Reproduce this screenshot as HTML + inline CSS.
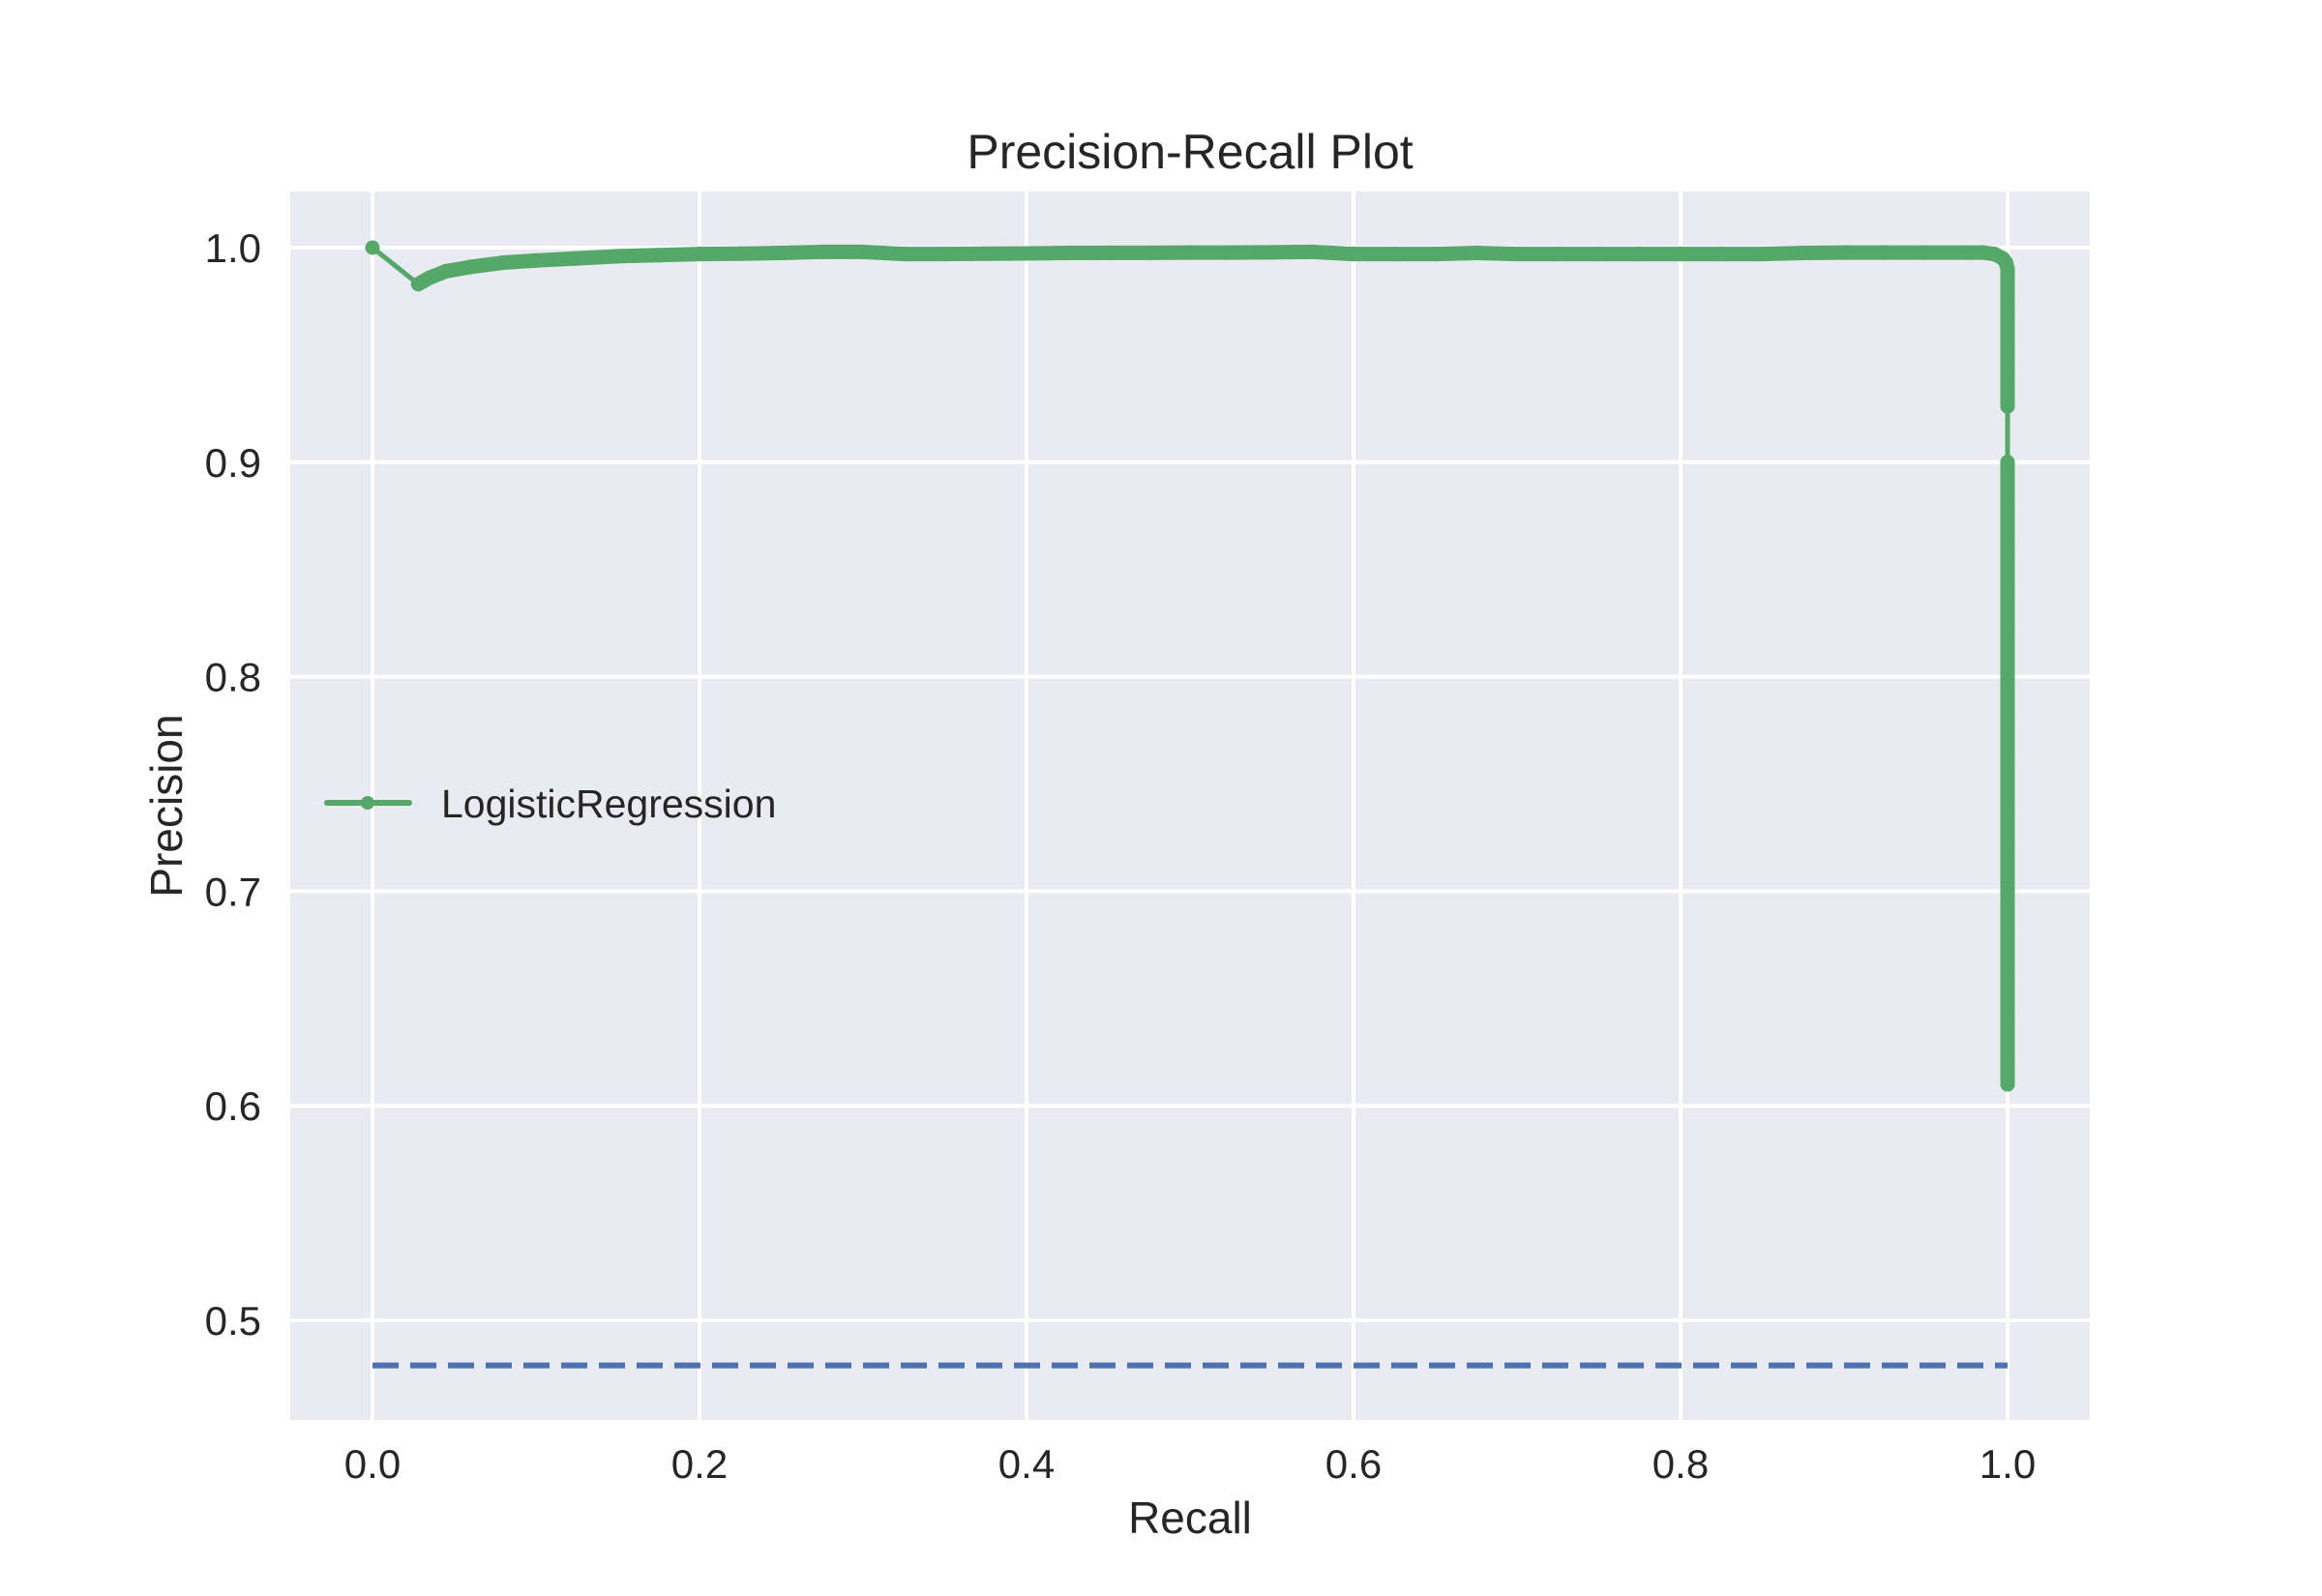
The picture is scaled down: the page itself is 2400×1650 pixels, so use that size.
<!DOCTYPE html>
<html><head><meta charset="utf-8"><style>
html,body{margin:0;padding:0;background:#fff;}
svg{display:block;font-family:"Liberation Sans",Arial,sans-serif;}
</style></head><body>
<svg id="chart" width="2400" height="1650" viewBox="0 0 2400 1650" xmlns="http://www.w3.org/2000/svg">
<rect width="2400" height="1650" fill="#fff"/>
<rect x="300" y="198" width="1860" height="1270" fill="#eaeaf2"/>
<g id="grid"></g>
<g id="ticks"></g>
<g id="series"></g>
<text x="1230" y="174" font-size="50" text-anchor="middle" fill="#262626">Precision-Recall Plot</text>
<text x="1230" y="1585" font-size="46" text-anchor="middle" fill="#262626">Recall</text>
<text x="188" y="833" font-size="46" text-anchor="middle" fill="#262626" transform="rotate(-90 188 833)">Precision</text>
<g>
<line x1="338" y1="830" x2="423" y2="830" stroke="#55a868" stroke-width="6" stroke-linecap="round"/>
<circle cx="380" cy="830" r="7" fill="#55a868"/>
<text x="456" y="845" font-size="41" fill="#262626">LogisticRegression</text>
</g>
</svg>
<script>
const xTicks = [0.0, 0.2, 0.4, 0.6, 0.8, 1.0];
const xTickLabels = ["0.0", "0.2", "0.4", "0.6", "0.8", "1.0"];
const yTicks = [0.5, 0.6, 0.7, 0.8, 0.9, 1.0];
const yTickLabels = ["0.5", "0.6", "0.7", "0.8", "0.9", "1.0"];
const recall = [0, 0.028, 0.035, 0.045, 0.06, 0.08, 0.1, 0.125, 0.15, 0.175, 0.2, 0.225, 0.25, 0.275, 0.3, 0.325, 0.35, 0.375, 0.4, 0.425, 0.45, 0.475, 0.5, 0.525, 0.55, 0.575, 0.6, 0.625, 0.65, 0.675, 0.7, 0.725, 0.75, 0.775, 0.8, 0.825, 0.85, 0.875, 0.9, 0.925, 0.95, 0.975, 0.985, 0.992, 0.997, 0.999, 1.0, 1.0, 1.0, 1.0, 1.0, 1.0, 1.0, 1.0, 1.0, 1.0, 1.0, 1.0, 1.0, 1.0, 1.0, 1.0, 1.0, 1.0, 1.0, 1.0, 1.0, 1.0];
const precision = [1.0, 0.983, 0.986, 0.989, 0.991, 0.993, 0.994, 0.995, 0.996, 0.9965, 0.997, 0.9972, 0.9975, 0.998, 0.998, 0.997, 0.997, 0.9972, 0.9973, 0.9975, 0.9976, 0.9976, 0.9977, 0.9977, 0.9978, 0.998, 0.997, 0.997, 0.997, 0.9975, 0.997, 0.997, 0.997, 0.997, 0.997, 0.997, 0.997, 0.9975, 0.9977, 0.9977, 0.9977, 0.9977, 0.9977, 0.997, 0.995, 0.993, 0.99, 0.97, 0.95, 0.94, 0.926, 0.9, 0.88, 0.86, 0.84, 0.82, 0.8, 0.78, 0.76, 0.74, 0.72, 0.70, 0.68, 0.66, 0.64, 0.62, 0.615, 0.61];
const baselinePrecision = [0.479];
const baselineRecall = [0, 1];

const X = v => 385 + v * 1690;
const Y = v => 256 + (1.0 - v) * 2218;
const NS = "http://www.w3.org/2000/svg";
const grid = document.getElementById('grid');
const ticks = document.getElementById('ticks');
const series = document.getElementById('series');
function mk(tag, attrs, parent){const e=document.createElementNS(NS,tag);for(const k in attrs)e.setAttribute(k,attrs[k]);parent.appendChild(e);return e;}

xTicks.forEach((t,i)=>{
  const g = mk('line',{x1:X(t),x2:X(t),y1:198,y2:1468,stroke:'#fff','stroke-width':4},grid);
  
  
  const l = mk('text',{x:X(t),y:1528,'font-size':42,'text-anchor':'middle',fill:'#262626'},ticks);
  l.textContent = xTickLabels[i];
  
  
});
yTicks.forEach((t,i)=>{
  const g = mk('line',{x1:300,x2:2160,y1:Y(t),y2:Y(t),stroke:'#fff','stroke-width':4},grid);
  
  
  const l = mk('text',{x:270,y:Y(t)+15,'font-size':42,'text-anchor':'end',fill:'#262626'},ticks);
  l.textContent = yTickLabels[i];
  
  
});

const base = mk('line',{x1:X(baselineRecall[0]),x2:X(baselineRecall[1]),y1:Y(baselinePrecision[0]),y2:Y(baselinePrecision[0]),stroke:'#4c72b0','stroke-width':6,'stroke-dasharray':'27 12'},series);



const curve = mk('g',{},series);


for(let i=0;i<recall.length-1;i++){
  const x1=X(recall[i]),y1=Y(precision[i]),x2=X(recall[i+1]),y2=Y(precision[i+1]);
  const d=Math.hypot(x2-x1,y2-y1);
  const s = mk('line',{x1:x1,y1:y1,x2:x2,y2:y2,stroke:'#55a868','stroke-width':d>50?5:15,'stroke-linecap':'round'},curve);
  
  
}
recall.forEach((r,i)=>{
  const c = mk('circle',{cx:X(r),cy:Y(precision[i]),r:7.5,fill:'#55a868'},curve);
  
  
});
</script>
</body></html>
